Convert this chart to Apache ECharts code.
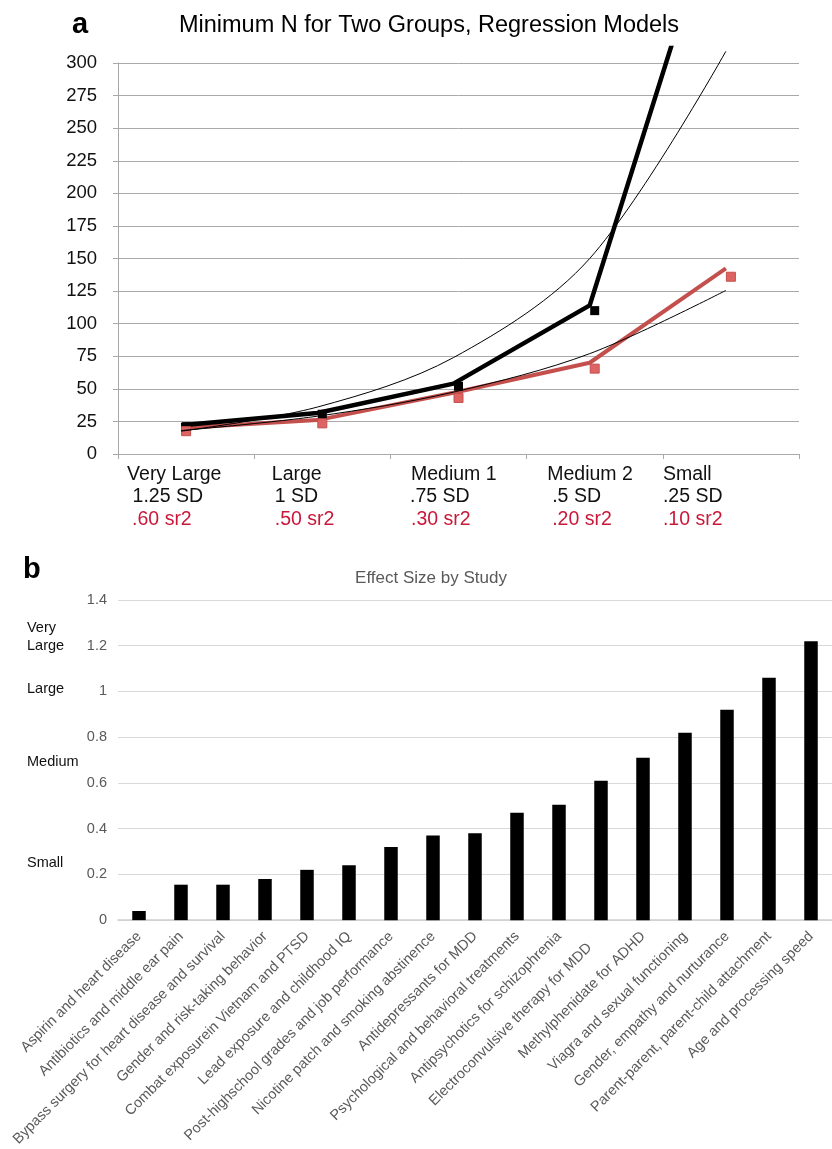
<!DOCTYPE html>
<html>
<head>
<meta charset="utf-8">
<title>Minimum N / Effect Size by Study</title>
<script src="https://cdn.jsdelivr.net/npm/echarts@6/dist/echarts.min.js"></script>
<style>
  html, body { margin: 0; padding: 0; background: #fff; }
  #chart { width: 832px; height: 1149px; }
</style>
</head>
<body>
<div id="chart"></div>
<script>
// ---- panel a: minimum N for two groups ----
const sizeCats = ['Very Large', 'Large', 'Medium 1', 'Medium 2', 'Small'];
const sdLabels = ['1.25 SD', '1 SD', '.75 SD', '.5 SD', '.25 SD'];
const sr2Labels = ['.60 sr2', '.50 sr2', '.30 sr2', '.20 sr2', '.10 sr2'];
const blackLine = [22, 31.5, 54, 114, 446];
const blackMarks = [21, 30.5, 52, 110, 430];
const redLine = [20, 26, 47, 70, 142.5];
const redMarks = [17.5, 23.5, 43, 65.5, 136];
const trendUpper = [17.5, 36, 74, 150, 309];
const trendLower = [18, 29, 47.5, 77, 125.5];

// ---- panel b: effect size by study ----
const studies = [
  'Aspirin and heart disease',
  'Antibiotics and middle ear pain',
  'Bypass surgery for heart disease and survival',
  'Gender and risk-taking behavior',
  'Combat exposurein Vietnam and PTSD',
  'Lead exposure and childhood IQ',
  'Post-highschool grades and job performance',
  'Nicotine patch and smoking abstinence',
  'Antidepressants for MDD',
  'Psychological and behavioral treatments',
  'Antipsychotics for schizophrenia',
  'Electroconvulsive therapy for MDD    ',
  'Methylphenidate for ADHD',
  'Viagra and sexual functioning',
  'Gender, empathy and nurturance',
  'Parent-parent, parent-child attachment',
  'Age and processing speed'
];
const effectSizes = [0.04, 0.155, 0.155, 0.18, 0.22, 0.24, 0.32, 0.37, 0.38, 0.47, 0.505, 0.61, 0.71, 0.82, 0.92, 1.06, 1.22];
const sizeNames = ['Very\nLarge', 'Large', 'Medium', 'Small'];

// layout
const FONT = '"Liberation Sans", Arial, Helvetica, sans-serif';
const W = 832, H = 1149;
const plotA = { left: 118, right: 799, top: 63, bottom: 454 };
const clipTopA = 48;          // plot area reaches a bit above the 300 line
const lineShift = 5;          // line vertices sit a few px left of the markers
const yMaxA = 300 * (plotA.bottom - clipTopA) / (plotA.bottom - plotA.top);
const plotB = { left: 118, width: 720, top: 600, bottom: 922 };
const sizeNameY = [637, 689, 762, 863];
// left indents of the three label rows under each category
const xIndent = [[11, 16.5, 16], [19.5, 22.5, 22.5], [22.5, 21.5, 22.5], [22.5, 27.5, 27.5], [2, 2, 2]];

const gridGray = '#a9a9a9';
const redCol = '#c3504d';

const rich = {};
xIndent.forEach((p, i) => {
  const base = { fontFamily: FONT, fontSize: 19.5, lineHeight: 22.5, color: '#111' };
  rich['n' + i] = Object.assign({}, base, { padding: [0, 0, 0, p[0]] });
  rich['s' + i] = Object.assign({}, base, { padding: [0, 0, 0, p[1]] });
  rich['r' + i] = Object.assign({}, base, { padding: [0, 0, 0, p[2]], color: '#c9183a' });
});

const chart = echarts.init(document.getElementById('chart'), null, { renderer: 'canvas' });

const hiddenX = (gi) => ({ type: 'category', gridIndex: gi, data: sizeCats, show: false, boundaryGap: true });
const hiddenY = (gi) => ({ type: 'value', gridIndex: gi, min: 0, max: yMaxA, show: false, splitLine: { show: false } });

const option = {
  animation: false,
  backgroundColor: '#fff',
  textStyle: { fontFamily: FONT },
  grid: [
    // 0: visible axes of panel a
    { left: plotA.left, right: W - plotA.right, top: plotA.top, bottom: H - plotA.bottom },
    // 1: lines (shifted a few px left, extended top)
    { left: plotA.left - lineShift, right: W - plotA.right + lineShift, top: clipTopA, bottom: H - plotA.bottom },
    // 2: markers (extended top)
    { left: plotA.left, right: W - plotA.right, top: clipTopA, bottom: H - plotA.bottom },
    // 3: panel b
    { left: plotB.left, width: plotB.width, top: plotB.top, bottom: H - plotB.bottom }
  ],
  xAxis: [
    {
      type: 'category', gridIndex: 0, data: sizeCats, boundaryGap: true,
      axisLine: { lineStyle: { color: gridGray, width: 1 } },
      axisTick: { show: true, length: 5, lineStyle: { color: gridGray } },
      axisLabel: {
        interval: 0, align: 'left', margin: 9, padding: [0, 0, 0, -70],
        rich: rich,
        formatter: (v) => {
          const i = sizeCats.indexOf(v);
          return `{n${i}|${v}}\n{s${i}|${sdLabels[i]}}\n{r${i}|${sr2Labels[i]}}`;
        }
      }
    },
    hiddenX(1),
    hiddenX(2),
    {
      type: 'category', gridIndex: 3, data: studies, boundaryGap: true,
      axisLine: { lineStyle: { color: '#d0d0d0', width: 1.5 } },
      axisTick: { show: false },
      axisLabel: { interval: 0, rotate: 45, margin: 14, color: '#595959', fontSize: 14.5, fontFamily: FONT }
    }
  ],
  yAxis: [
    {
      type: 'value', gridIndex: 0, min: 0, max: 300, interval: 25,
      axisLine: { show: true, lineStyle: { color: gridGray } },
      axisTick: { show: true, length: 5, lineStyle: { color: gridGray } },
      axisLabel: { color: '#111', fontSize: 18.5, margin: 21, fontFamily: FONT },
      splitLine: { lineStyle: { color: gridGray, width: 1 } }
    },
    hiddenY(1),
    hiddenY(2),
    {
      type: 'value', gridIndex: 3, min: 0, max: 1.4, interval: 0.2,
      axisLine: { show: false },
      axisTick: { show: false },
      axisLabel: { color: '#595959', fontSize: 14.5, margin: 11, fontFamily: FONT },
      splitLine: { lineStyle: { color: '#d9d9d9', width: 1 } }
    }
  ],
  series: [
    {
      name: 'red', type: 'line', xAxisIndex: 1, yAxisIndex: 1, data: redLine,
      showSymbol: false, lineStyle: { color: redCol, width: 4 }, z: 2
    },
    {
      name: 'black', type: 'line', xAxisIndex: 1, yAxisIndex: 1, data: blackLine,
      showSymbol: false, lineStyle: { color: '#000', width: 4.5 }, z: 3
    },
    {
      name: 'black markers', type: 'scatter', xAxisIndex: 2, yAxisIndex: 2, data: blackMarks,
      symbol: 'rect', symbolSize: 9, itemStyle: { color: '#000', opacity: 1 }, z: 4
    },
    {
      name: 'red markers', type: 'scatter', xAxisIndex: 2, yAxisIndex: 2, data: redMarks,
      symbol: 'rect', symbolSize: 9,
      itemStyle: { color: '#de6464', borderColor: '#c4504d', borderWidth: 1, opacity: 1 }, z: 5
    },
    {
      name: 'trend upper', type: 'line', xAxisIndex: 1, yAxisIndex: 1, data: trendUpper,
      smooth: 0.33, showSymbol: false, lineStyle: { color: '#000', width: 1 }, z: 6
    },
    {
      name: 'trend lower', type: 'line', xAxisIndex: 1, yAxisIndex: 1, data: trendLower,
      smooth: 0.33, showSymbol: false, lineStyle: { color: '#000', width: 1 }, z: 6
    },
    {
      name: 'effect size', type: 'bar', xAxisIndex: 3, yAxisIndex: 3, data: effectSizes,
      barWidth: 13.5, itemStyle: { color: '#000' }
    }
  ],
  graphic: [
    { type: 'text', x: 72, y: 25, style: { text: 'a', fontFamily: FONT, fontSize: 29, fontWeight: 'bold', fill: '#000', align: 'left', verticalAlign: 'middle' } },
    { type: 'text', x: 429, y: 26, style: { text: 'Minimum N for Two Groups, Regression Models', fontFamily: FONT, fontSize: 23.5, fill: '#000', align: 'center', verticalAlign: 'middle' } },
    { type: 'text', x: 23, y: 570, style: { text: 'b', fontFamily: FONT, fontSize: 29, fontWeight: 'bold', fill: '#000', align: 'left', verticalAlign: 'middle' } },
    { type: 'text', x: 431, y: 578, style: { text: 'Effect Size by Study', fontFamily: FONT, fontSize: 17, fill: '#595959', align: 'center', verticalAlign: 'middle' } }
  ].concat(sizeNames.map((t, i) => ({
    type: 'text', x: 27, y: sizeNameY[i],
    style: { text: t, fontFamily: FONT, fontSize: 14.5, lineHeight: 17.7, fill: '#111', align: 'left', verticalAlign: 'middle' }
  })))
};

chart.setOption(option);
</script>
</body>
</html>
